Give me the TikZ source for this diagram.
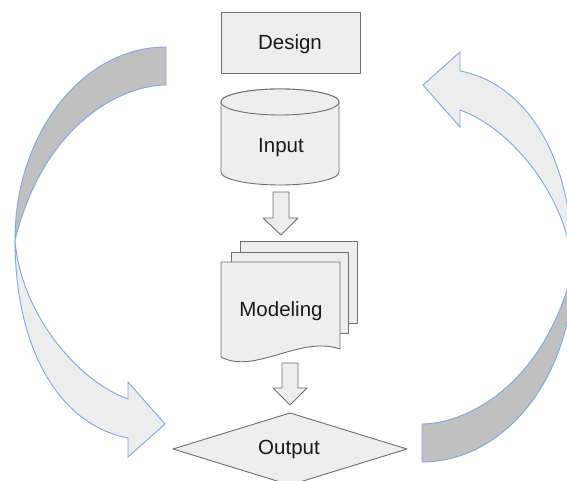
\documentclass[tikz,border=0pt]{standalone}
\usepackage{fontspec}
\setmainfont{Liberation Sans}
\usetikzlibrary{shapes.geometric}
\definecolor{shapefill}{HTML}{EEEEEE}
\definecolor{shapeline}{HTML}{6E6E6E}
\definecolor{arrowlight}{HTML}{EDEDED}
\definecolor{arrowdark}{HTML}{C0C0C0}
\definecolor{arrowline}{HTML}{7EA6E6}
\definecolor{txt}{HTML}{1A1A1A}
\tikzset{
  shp/.style={fill=shapefill, draw=shapeline, line width=0.9pt, line join=round},
  lbl/.style={text=txt, font=\fontsize{20.5}{24}\selectfont, inner sep=0pt},
  curvlight/.style={fill=arrowlight, draw=arrowline, line width=0.9pt, line join=miter},
  curvdark/.style={fill=arrowdark, draw=arrowline, line width=0.9pt, line join=miter},
}
\begin{document}
\begin{tikzpicture}[x=1pt,y=-1pt]
\clip (0,0) rectangle (567,481);
\fill[white] (0,0) rectangle (567,481);

% ---------- curved arrows ----------
\newcommand{\curvedarrow}{%
  \draw[curvdark] (166,47) .. controls (83,47) and (15,133) .. (15,240)
      .. controls (45,120) and (125,85) .. (166,85) -- cycle;
  \draw[curvlight] (15,240) .. controls (20,310) and (75,380) .. (128,399)
      -- (128,382) -- (165,424) -- (128,457) -- (128,438)
      .. controls (60,425) and (15,350) .. (15,240) -- cycle;
}
\curvedarrow
\begin{scope}[rotate around={180:(294,254.5)}]
\curvedarrow
\end{scope}

% ---------- Design ----------
\draw[shp] (221,12) rectangle (360,73);
\node[lbl] (design) at (290,44) {Design};

% ---------- Input (cylinder) ----------
\draw[shp] (221,102) -- (221,172) arc[start angle=180, end angle=0, x radius=59, y radius=13]
  -- (339,102) arc[start angle=0, end angle=-180, x radius=59, y radius=13] -- cycle;
\draw[shp] (280,102) ellipse[x radius=59, y radius=13];
\node[lbl] (input) at (281,148) {Input};

% ---------- arrow Input -> Modeling ----------
\draw[shp] (273,192) -- (289,192) -- (289,218) -- (298,218) -- (281,235)
  -- (263,218) -- (273,218) -- cycle;

% ---------- Modeling (multi-document) ----------
\draw[shp] (240,241) rectangle (357,323);
\draw[shp] (231,252) rectangle (348,333);
\draw[shp] (221,262) -- (221,357) .. controls (255,375) and (300,335) .. (340,349)
  -- (340,262) -- cycle;
\node[lbl] (model) at (281,311) {Modeling};

% ---------- arrow Modeling -> Output ----------
\draw[shp] (282,363) -- (298,363) -- (298,388) -- (307,388) -- (290,405)
  -- (273,388) -- (282,388) -- cycle;

% ---------- Output (diamond) ----------
\draw[shp] (290,413) -- (407,449) -- (290,485) -- (173,449) -- cycle;
\node[lbl] (output) at (289,449) {Output};
\end{tikzpicture}
\end{document}
